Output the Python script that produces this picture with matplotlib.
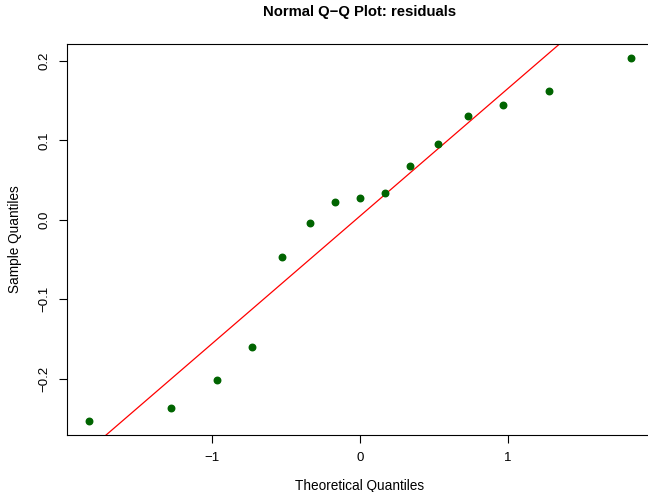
import numpy as np
import matplotlib
matplotlib.use('Agg')
import matplotlib.pyplot as plt

plt.rcParams['font.family'] = ['Liberation Sans', 'DejaVu Sans']

# Data: theoretical normal quantiles (n = 15) and the sample residuals
theoretical = [-1.834, -1.281, -0.967, -0.728, -0.524, -0.341, -0.168, 0.0,
               0.168, 0.341, 0.524, 0.728, 0.967, 1.281, 1.834]
residuals = [-0.2525, -0.237, -0.202, -0.160, -0.047, -0.004, 0.023, 0.028,
             0.034, 0.068, 0.095, 0.131, 0.144, 0.162, 0.203]
xticks = [-1, 0, 1]
yticks = [-0.2, -0.1, 0.0, 0.1, 0.2]

x = np.array(theoretical)
y = np.array(residuals)

# qqline through the quartiles (like R's qqline)
q1, q3 = np.quantile(y, [0.25, 0.75])
z = 0.6744898
slope = (q3 - q1) / (2 * z)
intercept = q1 + slope * z

fig = plt.figure(figsize=(6.48, 4.92), dpi=100)
# plot box runs a little past the right edge of the image, as in the reference
ax = fig.add_axes([67 / 648, 1 - 435 / 492, 586 / 648, 391 / 492])

ax.scatter(x, y, s=22, color='#006400', zorder=3)

xr = x.max() - x.min()
yr = y.max() - y.min()
ax.set_xlim(x.min() - 0.04 * xr, x.max() + 0.04 * xr)
ax.set_ylim(y.min() - 0.04 * yr, y.max() + 0.04 * yr)

ax.axline((0, intercept), slope=slope, color='red', lw=0.9)

ax.set_xticks(xticks)
ax.set_xticklabels(['\u22121', '0', '1'])
ax.set_yticks(yticks)
ax.set_yticklabels(['\u22120.2', '\u22120.1', '0.0', '0.1', '0.2'],
                   rotation=90, va='center')
ax.tick_params(direction='out', length=6, labelsize=9.5, colors='black', pad=6)

for sp in ax.spines.values():
    sp.set_linewidth(0.8)

ax.set_xlabel('Theoretical Quantiles', fontsize=9.8, labelpad=11)
ax.set_ylabel('Sample Quantiles', fontsize=9.8, labelpad=12)
ax.set_title('Normal Q\u2212Q Plot: residuals', fontsize=10.7, fontweight='bold', pad=20)

fig.savefig('out.png', dpi=100)
